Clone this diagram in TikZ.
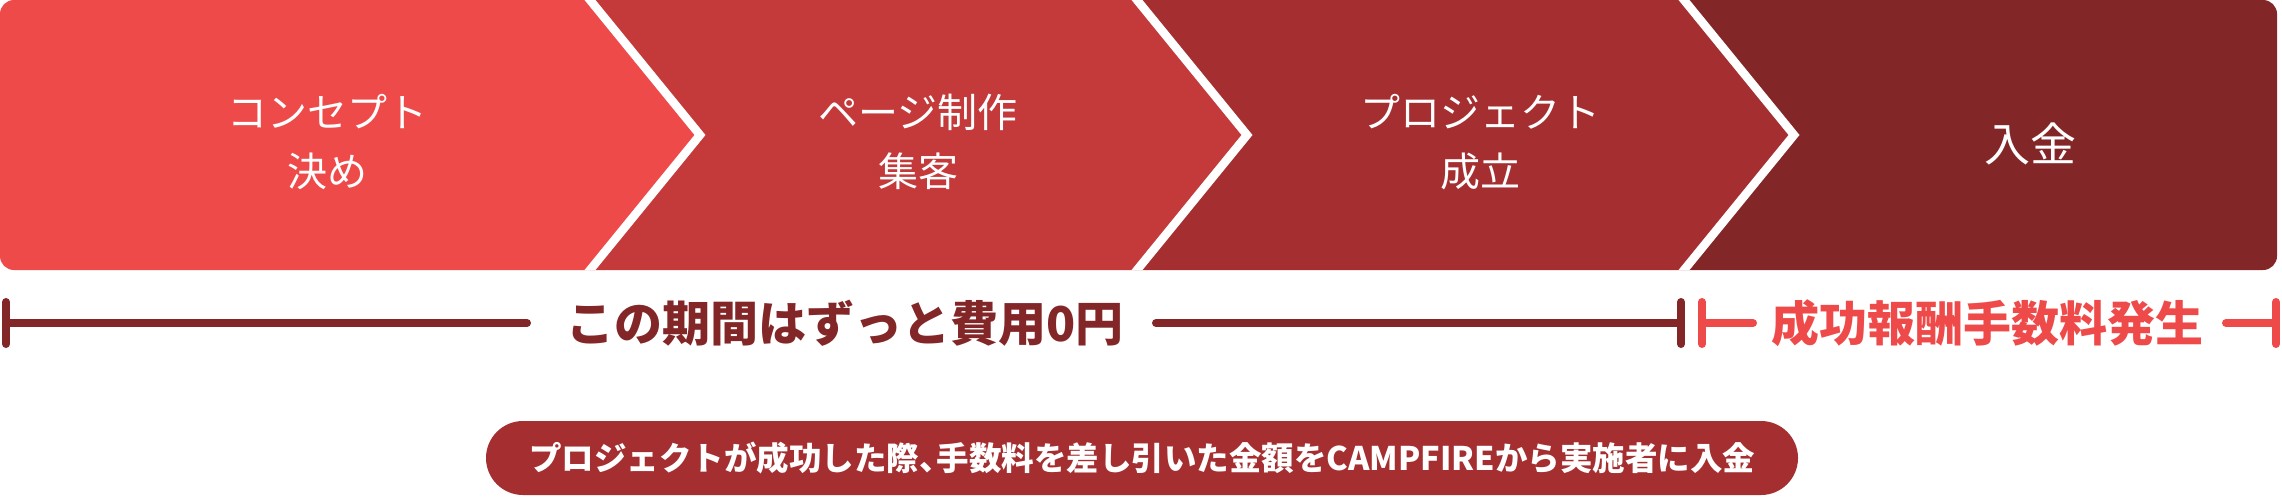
\documentclass[tikz,border=0pt]{standalone}
\usepackage{fontspec}
\newfontfamily\jp{Noto Sans CJK JP}
\definecolor{cA}{RGB}{239,74,74}
\definecolor{cB}{RGB}{196,57,58}
\definecolor{cC}{RGB}{165,46,48}
\definecolor{cD}{RGB}{131,38,39}
\tikzset{
  steplabel/.style={text=white, align=center, inner sep=0pt, font=\jp\fontsize{40}{59}\selectfont},
  sepline/.style={draw=white, line width=8.5pt, line join=miter},
  spanline/.style={line width=8pt, line cap=round},
  spantext/.style={inner sep=0pt, font=\jp\bfseries\fontsize{48}{56}\selectfont},
  pill/.style={fill=cC, text=white, rounded corners=37pt, minimum width=1312pt, minimum height=74pt, inner sep=0pt, font=\jp\bfseries\fontsize{32.5}{36}\selectfont},
}
\begin{document}
\begin{tikzpicture}[x={(1pt,0pt)}, y={(0pt,-1pt)}]
\useasboundingbox (0,0) rectangle (2282,496);
% process bar
\begin{scope}
  \clip[rounded corners=14pt] (0,0) rectangle (2277,270);
  \fill[cA] (0,0) -- (590,0) -- (700,135) -- (590,270) -- (0,270) -- cycle;
  \fill[cB] (590,0) -- (1137,0) -- (1247,135) -- (1137,270) -- (590,270) -- (700,135) -- cycle;
  \fill[cC] (1137,0) -- (1684,0) -- (1794,135) -- (1684,270) -- (1137,270) -- (1247,135) -- cycle;
  \fill[cD] (1684,0) -- (2290,0) -- (2290,270) -- (1684,270) -- (1794,135) -- cycle;
  \draw[sepline] (579,-13.5) -- (700,135) -- (579,283.5);
  \draw[sepline] (1126,-13.5) -- (1247,135) -- (1126,283.5);
  \draw[sepline] (1673,-13.5) -- (1794,135) -- (1673,283.5);
\end{scope}
\node[steplabel] (s1) at (327,142) {コンセプト\\決め};
\node[steplabel] (s2) at (918,142) {ページ制作\\集客};
\node[steplabel] (s3) at (1480,142) {プロジェクト\\成立};
\node[steplabel, font=\jp\fontsize{46}{59}\selectfont] (s4) at (2030,144) {入金};
% span: free period
\node[spantext, text=cD] (free) at (845,323) {この期間はずっと費用0円};
\coordinate (fa) at (6,323);
\coordinate (fb) at (527,323);
\coordinate (fc) at (1156,323);
\coordinate (fd) at (1681,323);
\draw[spanline, cD] (6,302) -- (6,344);
\draw[spanline, cD] (fa) -- (fb);
\draw[spanline, cD] (fc) -- (fd);
\draw[spanline, cD] (1681,302) -- (1681,344);
% span: success fee
\node[spantext, text=cA] (fee) at (1987,323) {成功報酬手数料発生};
\coordinate (ga) at (1702,323);
\coordinate (gb) at (1753,323);
\coordinate (gc) at (2226,323);
\coordinate (gd) at (2276,323);
\draw[spanline, cA] (1702,302) -- (1702,344);
\draw[spanline, cA] (ga) -- (gb);
\draw[spanline, cA] (gc) -- (gd);
\draw[spanline, cA] (2276,302) -- (2276,344);
% note
\node[pill] (note) at (1142,458) {プロジェクトが成功した際、\hspace{-15pt}手数料を差し引いた金額をCAMPFIREから実施者に入金};
\end{tikzpicture}
\end{document}
